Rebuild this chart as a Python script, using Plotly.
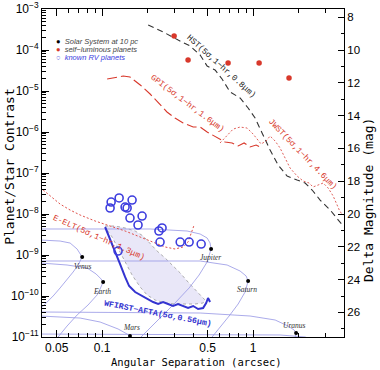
import numpy as np
import plotly.graph_objects as go

# ---------------- data ----------------
hst_sep = [0.202, 0.254, 0.319, 0.383, 0.446, 0.496, 0.560, 0.623, 0.704, 0.820, 0.927, 1.031,
           1.147, 1.296, 1.464, 1.68, 1.955, 2.21, 2.46, 2.78, 3.24, 3.60, 3.95]
hst_con = [4.07e-4, 2.75e-4, 1.75e-4, 1.25e-4, 7.55e-5, 4.07e-5, 3.25e-5, 1.96e-5, 9.5e-6, 6.75e-6,
           3.85e-6, 2.19e-6, 9.5e-7, 3.64e-7, 1.57e-7, 8.45e-8, 6.75e-8, 5.7e-8, 3.85e-8, 2.19e-8,
           1.25e-8, 7.98e-9, 5.09e-9]

gpi_sep = [0.108, 0.138, 0.153, 0.179, 0.208, 0.242, 0.269, 0.304, 0.344, 0.401, 0.446, 0.496,
           0.578, 0.653, 0.726, 0.796, 0.872, 0.955, 1.047, 1.147]
gpi_con = [1.96e-5, 2.32e-5, 2.19e-5, 1.40e-5, 8.45e-6, 4.56e-6, 3.08e-6, 2.19e-6, 1.66e-6, 1.32e-6,
           1.32e-6, 1.0e-6, 7.14e-7, 5.7e-7, 5.39e-7, 4.56e-7, 5.39e-7, 4.31e-7, 4.82e-7, 4.07e-7]

jwst_sep = [0.604, 0.673, 0.738, 0.820, 0.912, 1.0, 1.079, 1.130, 1.219, 1.296, 1.399, 1.509, 1.629,
            1.758, 1.955, 2.144, 2.349, 2.495, 2.694, 2.91, 3.14, 3.39, 3.60, 3.77, 4.0]
jwst_con = [5.39e-7, 8.45e-7, 1.18e-6, 1.32e-6, 1.25e-6, 8.93e-7, 6.03e-7, 5.09e-7, 6.03e-7, 7.98e-7,
            6.03e-7, 4.07e-7, 2.32e-7, 1.32e-7, 8.45e-8, 6.38e-8, 5.7e-8, 4.56e-8, 5.09e-8, 5.7e-8,
            4.31e-8, 2.75e-8, 1.66e-8, 1.12e-8, 9.46e-9]

eelt_sep = [0.0407, 0.0453, 0.0527, 0.0614, 0.0715, 0.0899, 0.113, 0.142, 0.1786, 0.2244, 0.2614,
            0.304, 0.3436, 0.371, 0.388, 0.407]
eelt_con = [3.85e-8, 2.75e-8, 1.75e-8, 1.25e-8, 9.46e-9, 6.75e-9, 5.09e-9, 3.85e-9, 2.75e-9, 1.96e-9,
            1.57e-9, 1.40e-9, 1.57e-9, 2.07e-9, 3.25e-9, 5.39e-9]

wfirst_sep = [0.1047, 0.113, 0.122, 0.1316, 0.142, 0.151, 0.1655, 0.184, 0.2017, 0.2178, 0.235, 0.2535,
              0.2735, 0.295, 0.3186, 0.3436, 0.371, 0.401, 0.4325, 0.4665, 0.489, 0.503, 0.519]
wfirst_con = [4.82e-9, 2.46e-9, 1.25e-9, 6.03e-10, 2.91e-10, 1.75e-10, 1.25e-10, 1.0e-10, 8.45e-11,
              7.14e-11, 6.38e-11, 7.14e-11, 6.38e-11, 5.7e-11, 6.38e-11, 5.7e-11, 5.09e-11, 5.7e-11,
              4.82e-11, 5.09e-11, 6.75e-11, 8.93e-11, 7.14e-11]

zone_sep = [0.1047, 0.122, 0.142, 0.1655, 0.187, 0.208, 0.2313, 0.2614, 0.291, 0.329, 0.371, 0.413,
            0.453, 0.481, 0.4665, 0.413, 0.355, 0.304, 0.2614, 0.2244, 0.1986, 0.1786, 0.158, 0.142,
            0.1276, 0.1165, 0.1079]
zone_con = [5.09e-9, 5.09e-9, 4.56e-9, 3.85e-9, 2.91e-9, 1.96e-9, 1.25e-9, 8.45e-10, 5.7e-10, 3.64e-10,
            2.19e-10, 1.40e-10, 1.0e-10, 7.98e-11, 6.75e-11, 6.38e-11, 6.38e-11, 6.38e-11, 6.75e-11,
            7.98e-11, 1.06e-10, 1.66e-10, 3.25e-10, 6.75e-10, 1.48e-9, 2.75e-9, 4.07e-9]

rv_sep = [0.1148, 0.113, 0.1297, 0.158, 0.142, 0.1465, 0.153, 0.184, 0.173, 0.238, 0.2496, 0.242,
          0.329, 0.377, 0.453, 0.1276]
rv_con = [1.96e-8, 1.40e-8, 2.46e-8, 2.19e-8, 1.48e-8, 1.40e-8, 7.98e-9, 8.93e-9, 5.39e-9, 3.85e-9,
          4.56e-9, 2.07e-9, 2.07e-9, 2.07e-9, 1.85e-9, 1.25e-9]

lum_sep = [0.300, 0.371, 0.683, 1.096, 1.73]
lum_con = [2.19e-4, 5.7e-5, 4.82e-5, 4.82e-5, 2.07e-5]

venus_sep = [0.0389, 0.0527, 0.0614, 0.0683, 0.0738, 0.0694, 0.0643, 0.0578, 0.0527, 0.0474, 0.0432, 0.0389]
venus_con = [2.32e-9, 2.19e-9, 1.96e-9, 1.40e-9, 8.93e-10, 5.7e-10, 3.85e-10, 2.46e-10, 1.57e-10, 1.0e-10,
             7.14e-11, 4.82e-11]
earth_sep = [0.0389, 0.0586, 0.0796, 0.0913, 0.0985, 0.1016, 0.097, 0.0927, 0.0807, 0.0683, 0.0586, 0.0511, 0.0481]
earth_con = [6.38e-10, 5.7e-10, 4.82e-10, 3.44e-10, 2.6e-10, 2.19e-10, 1.48e-10, 1.06e-10, 6.03e-11, 3.44e-11,
             1.85e-11, 1.0e-11, 7.6e-12]
mars_sep = [0.0389, 0.0715, 0.097, 0.1276, 0.1465, 0.153, 0.142]
mars_con = [3.25e-11, 2.9e-11, 2.32e-11, 1.57e-11, 1.18e-11, 1.06e-11, 6.4e-12]
jupiter_sep = [0.0389, 0.208, 0.3656, 0.446, 0.496, 0.519, 0.527, 0.496, 0.439, 0.377, 0.304, 0.242, 0.193, 0.173]
jupiter_con = [4.31e-9, 4.31e-9, 3.85e-9, 3.25e-9, 2.6e-9, 1.96e-9, 1.40e-9, 6.75e-10, 3.25e-10, 1.57e-10,
               6.75e-11, 2.9e-11, 1.32e-11, 8.45e-12]
saturn_sep = [0.0389, 0.446, 0.673, 0.820, 0.899, 0.927, 0.885, 0.796, 0.694, 0.596, 0.535, 0.511]
saturn_con = [7.14e-10, 7.14e-10, 5.7e-10, 4.07e-10, 3.08e-10, 2.32e-10, 1.25e-10, 6.38e-11, 3.25e-11,
              1.66e-11, 1.0e-11, 7.6e-12]
uranus_sep = [0.0389, 0.446, 0.955, 1.399, 1.706, 1.87, 1.927, 1.87]
uranus_con = [4.07e-11, 3.85e-11, 3.25e-11, 2.6e-11, 1.85e-11, 1.48e-11, 1.25e-11, 7.6e-12]
neptune_sep = [0.0389, 1.509, 2.21, 2.69]
neptune_con = [1.18e-11, 1.12e-11, 1.0e-11, 7.9e-12]

planet_names = ["Venus", "Earth", "Mars", "Jupiter", "Saturn", "Uranus"]
planet_sep = [0.0738, 0.1016, 0.153, 0.527, 0.927, 1.927]
planet_con = [8.93e-10, 2.19e-10, 1.06e-11, 1.40e-9, 2.32e-10, 1.25e-11]
label_sep = [0.0748, 0.100, 0.156, 0.519, 0.912, 1.87]
label_con = [5.39e-10, 1.32e-10, 1.66e-11, 8.93e-10, 1.48e-10, 1.96e-11]

x_ticks = [0.05, 0.1, 0.5, 1]
x_ticktext = ["0.05", "0.1", "0.5", "1"]
y_exps = [-11, -10, -9, -8, -7, -6, -5, -4, -3]
mag_ticks = [8, 10, 12, 14, 16, 18, 20, 22, 24, 26]

# ---------------- styles ----------------
RED = "#d8382b"
BLUE = "#3434d0"
ORB = "#9c9ce6"
MONO = "Liberation Mono"

fig = go.Figure()

fig.add_trace(go.Scatter(x=zone_sep, y=zone_con, mode="lines", fill="toself",
                         fillcolor="#e9e7f8", line=dict(color="#9a9a9a", width=0.8, dash="dot"),
                         hoverinfo="skip", showlegend=False))

for sx, sy in [(venus_sep, venus_con), (earth_sep, earth_con), (mars_sep, mars_con),
               (jupiter_sep, jupiter_con), (saturn_sep, saturn_con), (uranus_sep, uranus_con),
               (neptune_sep, neptune_con)]:
    fig.add_trace(go.Scatter(x=sx, y=sy, mode="lines", line=dict(color=ORB, width=0.85),
                             hoverinfo="skip", showlegend=False))

fig.add_trace(go.Scatter(x=planet_sep, y=planet_con, mode="markers",
                         marker=dict(color="black", size=4), showlegend=False, cliponaxis=False))

fig.add_trace(go.Scatter(x=hst_sep, y=hst_con, mode="lines",
                         line=dict(color="#333333", width=1.1, dash="6px,4px"), showlegend=False))
fig.add_trace(go.Scatter(x=gpi_sep, y=gpi_con, mode="lines",
                         line=dict(color=RED, width=1.1, dash="10px,4px"), showlegend=False))
fig.add_trace(go.Scatter(x=jwst_sep, y=jwst_con, mode="lines",
                         line=dict(color="#e0605a", width=1, dash="2px,2px"), showlegend=False))
fig.add_trace(go.Scatter(x=eelt_sep, y=eelt_con, mode="lines",
                         line=dict(color="#e0504a", width=1, dash="2px,2px"), showlegend=False))
fig.add_trace(go.Scatter(x=wfirst_sep, y=wfirst_con, mode="lines",
                         line=dict(color=BLUE, width=2), showlegend=False))
fig.add_trace(go.Scatter(x=rv_sep, y=rv_con, mode="markers",
                         marker=dict(symbol="circle-open", size=8, color="#3d3dde", line=dict(width=1.6)),
                         showlegend=False))
fig.add_trace(go.Scatter(x=lum_sep, y=lum_con, mode="markers",
                         marker=dict(color=RED, size=5.5), showlegend=False))
# dummy trace for right axis
fig.add_trace(go.Scatter(x=[], y=[], yaxis="y2", showlegend=False))

L = np.log10
curve_labels = [
    ("HST(5σ,1−hr,0.8μm)", 0.623, 4.07e-5, 42, "#222222", False),
    ("GPI(5σ,1−hr,1.6μm)", 0.371, 5.09e-6, 37, RED, False),
    ("JWST(5σ,1−hr,4.6μm)", 2.14, 2.75e-7, 46, RED, False),
    ("E-ELT(5σ,1−hr,1.3μm)", 0.0955, 2.6e-9, 24, RED, False),
    ("WFIRST−AFTA(5σ,0.56μm)", 0.235, 3.64e-11, 11, BLUE, True),
]
for txt, xx, yy, ang, col, bold in curve_labels:
    fig.add_annotation(x=L(xx), y=L(yy), xref="x", yref="y", text=(f"<b>{txt}</b>" if bold else txt),
                       textangle=ang, showarrow=False, xanchor="center", yanchor="middle",
                       font=dict(family=MONO, size=8.3, color=col))

for name, xx, yy in zip(planet_names, label_sep, label_con):
    fig.add_annotation(x=L(xx), y=L(yy), xref="x", yref="y", text=f"<i>{name}</i>", showarrow=False,
                       xanchor="center", yanchor="middle",
                       font=dict(family="Liberation Serif", size=7.5, color="#333333"))

leg = [
    ("<span style='color:black'>●</span>  <i>Solar System at 10 pc</i>", 0.902, "#444444"),
    (f"<span style='color:{RED}'>●</span>  <i>self−luminous planets</i>", 0.877, "#444444"),
    ("<span style='color:#3d3dde'>○</span>  <i>known RV planets</i>", 0.852, "#3d3dde"),
]
for txt, yy, col in leg:
    fig.add_annotation(x=0.04, y=yy, xref="paper", yref="paper", xanchor="left", yanchor="middle",
                       text=txt, showarrow=False,
                       font=dict(family="Liberation Sans", size=7.5, color=col))

fig.add_annotation(x=0.51, y=-0.077, xref="paper", yref="paper", text="Angular Separation (arcsec)",
                   xanchor="center", yanchor="middle",
                   showarrow=False, font=dict(family="DejaVu Sans Mono", size=10.5, color="black"))
fig.add_annotation(x=-0.108, y=0.52, xref="paper", yref="paper", text="Planet/Star Contrast",
                   xanchor="center", yanchor="middle",
                   textangle=-90, showarrow=False, font=dict(family="DejaVu Sans Mono", size=13, color="black"))
fig.add_annotation(x=1.083, y=0.418, xref="paper", yref="paper", text="Delta Magnitude (mag)",
                   xanchor="center", yanchor="middle",
                   textangle=-90, showarrow=False, font=dict(family="DejaVu Sans Mono", size=13, color="black"))

ymin = [k * 10.0 ** e for e in range(-11, -3) for k in range(2, 10)]
xminor = [0.04, 0.06, 0.07, 0.08, 0.09, 0.2, 0.3, 0.4, 0.6, 0.7, 0.8, 0.9, 2, 3, 4]

fig.update_layout(
    width=380, height=370, margin=dict(l=42, r=36, t=9, b=33, autoexpand=False),
    paper_bgcolor="white", plot_bgcolor="white",
    font=dict(family="Liberation Sans", size=12, color="black"),
    xaxis=dict(type="log", range=[L(0.04), L(4)], tickmode="array", tickvals=x_ticks, ticktext=x_ticktext,
               ticks="inside", ticklen=7, tickcolor="black", showline=True, linecolor="black", linewidth=1,
               mirror="ticks", showgrid=False, zeroline=False, automargin=False,
               minor=dict(tickmode="array", tickvals=xminor, ticks="inside", ticklen=4, tickcolor="black",
                          showgrid=False),
               tickfont=dict(size=12)),
    yaxis=dict(type="log", range=[-11, -3], tickmode="array",
               tickvals=[10.0 ** e for e in y_exps],
               ticktext=[f"10<sup>−{abs(e)}</sup>" for e in y_exps],
               ticks="inside", ticklen=7, tickcolor="black", showline=True, linecolor="black", linewidth=1,
               showgrid=False, zeroline=False, automargin=False,
               minor=dict(tickmode="array", tickvals=ymin, ticks="inside", ticklen=3.5, tickcolor="black",
                          showgrid=False),
               tickfont=dict(size=12)),
    yaxis2=dict(overlaying="y", side="right", anchor="x", range=[27.5, 7.5], tickmode="array",
                tickvals=mag_ticks, ticktext=[str(m) for m in mag_ticks],
                ticks="inside", ticklen=6, tickcolor="black", showline=True, linecolor="black",
                linewidth=1, showgrid=False, zeroline=False, automargin=False,
                minor=dict(dtick=1, tick0=0, ticks="inside", ticklen=3.5, tickcolor="black", showgrid=False),
                tickfont=dict(size=11.5)),
)

fig.write_html("out.html")
